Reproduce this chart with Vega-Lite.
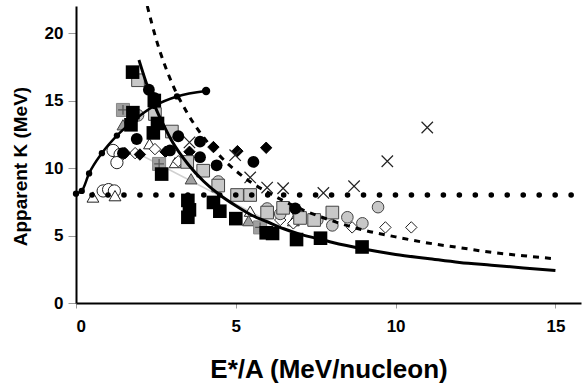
{
  "$schema": "https://vega.github.io/schema/vega-lite/v6.json",
  "width": 505,
  "height": 297,
  "autosize": "none",
  "padding": {"left": 76, "top": 6, "right": 1, "bottom": 87},
  "background": "white",
  "config": {
    "view": {"stroke": null},
    "font": "Liberation Sans",
    "axis": {"grid": false, "labelFont": "Liberation Sans", "titleFont": "Liberation Sans", "labelFontWeight": "bold", "titleFontWeight": "bold", "labelColor": "#000", "titleColor": "#000", "domainColor": "#000", "domainWidth": 2, "tickColor": "#999", "tickWidth": 1}
  },
  "datasets": {
    "bsq": [
      {"x": 1.77, "k": 17.1}, {"x": 2.45, "k": 15.0}, {"x": 1.78, "k": 14.1}, {"x": 1.72, "k": 13.2}, {"x": 2.42, "k": 12.6}, {"x": 2.55, "k": 13.3},
      {"x": 2.68, "k": 9.55}, {"x": 3.5, "k": 7.6}, {"x": 3.55, "k": 6.9}, {"x": 3.5, "k": 6.35}, {"x": 4.3, "k": 7.45}, {"x": 4.5, "k": 6.8},
      {"x": 5.0, "k": 6.25}, {"x": 5.95, "k": 5.2}, {"x": 6.15, "k": 5.15}, {"x": 6.9, "k": 4.7}, {"x": 7.65, "k": 4.8}, {"x": 8.95, "k": 4.15}
    ],
    "gsq": [
      {"x": 1.94, "k": 16.5}, {"x": 2.47, "k": 14.0}, {"x": 3.0, "k": 12.7}, {"x": 3.48, "k": 10.45}, {"x": 3.98, "k": 9.8}, {"x": 4.45, "k": 8.7},
      {"x": 5.04, "k": 8.0}, {"x": 5.45, "k": 8.0}, {"x": 5.98, "k": 6.7}, {"x": 6.48, "k": 7.05}, {"x": 7.01, "k": 6.3}, {"x": 7.45, "k": 6.15}, {"x": 8.02, "k": 6.7}
    ],
    "psq": [
      {"x": 1.47, "k": 14.3}, {"x": 2.6, "k": 10.3}, {"x": 5.76, "k": 5.6}
    ],
    "bci": [
      {"x": 2.28, "k": 15.8}, {"x": 2.44, "k": 15.2}, {"x": 1.9, "k": 12.15}, {"x": 1.47, "k": 11.1}, {"x": 2.54, "k": 13.2}, {"x": 3.2, "k": 12.35},
      {"x": 2.94, "k": 11.3}, {"x": 3.88, "k": 11.95}, {"x": 3.88, "k": 10.8}, {"x": 4.4, "k": 10.2}, {"x": 5.55, "k": 10.45}, {"x": 6.86, "k": 7.0}
    ],
    "gci": [
      {"x": 1.94, "k": 13.9}, {"x": 4.45, "k": 9.0}, {"x": 5.98, "k": 7.0}, {"x": 6.39, "k": 6.6}, {"x": 6.95, "k": 6.7}, {"x": 7.55, "k": 6.15},
      {"x": 8.02, "k": 5.75}, {"x": 8.49, "k": 6.35}, {"x": 8.96, "k": 5.9}, {"x": 9.45, "k": 7.1}
    ],
    "oci": [
      {"x": 1.16, "k": 11.3}, {"x": 1.38, "k": 11.0}, {"x": 1.28, "k": 10.4}, {"x": 0.85, "k": 8.3}, {"x": 1.02, "k": 8.4}, {"x": 1.2, "k": 8.3}
    ],
    "odi": [
      {"x": 1.85, "k": 11.1}, {"x": 2.47, "k": 11.4}, {"x": 3.2, "k": 10.5}, {"x": 6.39, "k": 6.15}, {"x": 6.8, "k": 5.9},
      {"x": 8.64, "k": 5.6}, {"x": 9.68, "k": 5.6}, {"x": 10.49, "k": 5.6}
    ],
    "bdi": [
      {"x": 1.53, "k": 11.1}, {"x": 2.0, "k": 11.0}, {"x": 2.8, "k": 11.2}, {"x": 3.55, "k": 11.2}, {"x": 4.3, "k": 11.55}, {"x": 5.05, "k": 11.25}, {"x": 5.95, "k": 11.5}
    ],
    "xcr": [
      {"x": 3.55, "k": 11.9}, {"x": 4.98, "k": 10.95}, {"x": 5.45, "k": 9.3}, {"x": 5.98, "k": 8.55}, {"x": 6.48, "k": 8.5}, {"x": 7.74, "k": 8.15},
      {"x": 8.7, "k": 8.65}, {"x": 9.74, "k": 10.5}, {"x": 10.99, "k": 13.0}
    ],
    "otr": [
      {"x": 0.53, "k": 7.85}, {"x": 1.22, "k": 7.95}, {"x": 2.3, "k": 11.8}, {"x": 3.1, "k": 10.4}, {"x": 5.45, "k": 6.8}, {"x": 6.8, "k": 6.1}
    ],
    "gtr": [
      {"x": 1.47, "k": 13.2}, {"x": 3.6, "k": 9.2}, {"x": 5.4, "k": 6.1}
    ],
    "solid": [
      {"x": 1.97, "k": 18.0}, {"x": 2.2, "k": 16.3}, {"x": 2.5, "k": 14.4}, {"x": 2.8, "k": 12.9}, {"x": 3.0, "k": 12.0}, {"x": 3.5, "k": 10.3},
      {"x": 4.0, "k": 9.0}, {"x": 4.5, "k": 8.0}, {"x": 5.0, "k": 7.2}, {"x": 5.5, "k": 6.5}, {"x": 6.0, "k": 6.0}, {"x": 6.5, "k": 5.5},
      {"x": 7.0, "k": 5.1}, {"x": 7.5, "k": 4.8}, {"x": 8.0, "k": 4.5}, {"x": 9.0, "k": 4.0}, {"x": 10.0, "k": 3.6}, {"x": 11.0, "k": 3.3},
      {"x": 12.0, "k": 3.0}, {"x": 13.0, "k": 2.8}, {"x": 14.0, "k": 2.6}, {"x": 15.0, "k": 2.4}
    ],
    "dashed": [
      {"x": 2.23, "k": 22.0}, {"x": 2.5, "k": 19.6}, {"x": 3.0, "k": 16.3}, {"x": 3.5, "k": 14.0}, {"x": 4.0, "k": 12.25}, {"x": 4.5, "k": 10.9},
      {"x": 5.0, "k": 9.8}, {"x": 5.5, "k": 8.9}, {"x": 6.0, "k": 8.2}, {"x": 7.0, "k": 7.0}, {"x": 8.0, "k": 6.1}, {"x": 9.0, "k": 5.4},
      {"x": 10.0, "k": 4.9}, {"x": 11.0, "k": 4.45}, {"x": 12.0, "k": 4.1}, {"x": 13.0, "k": 3.75}, {"x": 14.0, "k": 3.5}, {"x": 15.0, "k": 3.27}
    ],
    "dotted": [{"x": 0.5, "k": 8.0}, {"x": 15.8, "k": 8.0}],
    "rise": [
      {"x": 0.0, "k": 8.1}, {"x": 0.18, "k": 8.3}, {"x": 0.41, "k": 9.6}, {"x": 0.81, "k": 11.1}, {"x": 1.28, "k": 12.4},
      {"x": 1.85, "k": 13.6}, {"x": 2.45, "k": 14.6}, {"x": 3.16, "k": 15.3}, {"x": 4.07, "k": 15.7}
    ],
    "riseend": [{"x": 4.07, "k": 15.7}],
    "thin": [{"x": 2.0, "k": 11.0}, {"x": 6.0, "k": 6.1}]
  },
  "encoding": {
    "x": {"field": "x", "type": "quantitative", "scale": {"domain": [0, 15.8], "nice": false},
      "axis": {"values": [0, 5, 10, 15], "title": "E*/A (MeV/nucleon)", "titleFontSize": 26, "labelFontSize": 17, "tickSize": 5, "labelPadding": 10, "titlePadding": 22}},
    "y": {"field": "k", "type": "quantitative", "scale": {"domain": [0, 22], "nice": false},
      "axis": {"values": [0, 5, 10, 15, 20], "title": "Apparent K (MeV)", "titleFontSize": 19, "labelFontSize": 17, "tickSize": 8, "labelPadding": 5, "titleX": -56, "titleY": 160, "titleAngle": -90, "titleAlign": "center", "titleBaseline": "middle"}}
  },
  "layer": [
    {"data": {"name": "thin"}, "mark": {"type": "line", "color": "#d0d0d0", "strokeWidth": 1.5, "clip": true}},
    {"data": {"name": "oci"}, "mark": {"type": "point", "shape": "circle", "filled": true, "fill": "white", "stroke": "#222", "strokeWidth": 1, "size": 150, "opacity": 1}},
    {"data": {"name": "otr"}, "mark": {"type": "point", "shape": "triangle-up", "filled": true, "fill": "white", "stroke": "#222", "strokeWidth": 1, "size": 140, "opacity": 1}},
    {"data": {"name": "gtr"}, "mark": {"type": "point", "shape": "triangle-up", "filled": true, "fill": "#a0a0a0", "stroke": "#444", "strokeWidth": 1, "size": 140, "opacity": 1}},
    {"data": {"name": "odi"}, "mark": {"type": "point", "shape": "diamond", "filled": true, "fill": "white", "stroke": "#222", "strokeWidth": 1, "size": 130, "opacity": 1}},
    {"data": {"name": "bdi"}, "mark": {"type": "point", "shape": "diamond", "filled": true, "fill": "#000", "stroke": "#000", "strokeWidth": 1, "size": 130, "opacity": 1}},
    {"data": {"name": "xcr"}, "mark": {"type": "point", "shape": "M-1,-1L1,1M1,-1L-1,1", "filled": false, "stroke": "#222", "strokeWidth": 1.2, "size": 130, "opacity": 1}},
    {"data": {"name": "gci"}, "mark": {"type": "point", "shape": "circle", "filled": true, "fill": "#c8c8c8", "stroke": "#444", "strokeWidth": 1, "size": 135, "opacity": 1}},
    {"data": {"name": "gsq"}, "mark": {"type": "point", "shape": "square", "filled": true, "fill": "#c8c8c8", "stroke": "#444", "strokeWidth": 1, "size": 160, "opacity": 1}},
    {"data": {"name": "psq"}, "mark": {"type": "point", "shape": "square", "filled": true, "fill": "#a0a0a0", "stroke": "#888", "strokeWidth": 1, "size": 170, "opacity": 1}},
    {"data": {"name": "psq"}, "mark": {"type": "point", "shape": "M-0.75,0L0.75,0M0,-0.75L0,0.75", "filled": false, "stroke": "#555", "strokeWidth": 1.2, "size": 170, "opacity": 1}},
    {"data": {"name": "bci"}, "mark": {"type": "point", "shape": "circle", "filled": true, "fill": "#000", "size": 140, "opacity": 1}},
    {"data": {"name": "bsq"}, "mark": {"type": "point", "shape": "square", "filled": true, "fill": "#000", "size": 185, "opacity": 1}},
    {"data": {"name": "solid"}, "mark": {"type": "line", "color": "#000", "strokeWidth": 3, "interpolate": "monotone", "clip": true}},
    {"data": {"name": "dashed"}, "mark": {"type": "line", "color": "#000", "strokeWidth": 3, "strokeDash": [6, 6], "interpolate": "monotone", "clip": true}},
    {"data": {"name": "dotted"}, "mark": {"type": "line", "color": "#000", "strokeWidth": 5.5, "strokeDash": [0.1, 15.87], "strokeCap": "round", "clip": true}},
    {"data": {"name": "rise"}, "mark": {"type": "line", "color": "#000", "strokeWidth": 2.5, "interpolate": "monotone", "clip": true}},
    {"data": {"name": "rise"}, "mark": {"type": "point", "shape": "circle", "filled": true, "fill": "#000", "size": 40, "opacity": 1}},
    {"data": {"name": "riseend"}, "mark": {"type": "point", "shape": "circle", "filled": true, "fill": "#000", "size": 70, "opacity": 1}},
    {"mark": {"type": "rule", "color": "#000", "strokeWidth": 2}, "encoding": {"y": {"datum": 22}}}
  ]
}
